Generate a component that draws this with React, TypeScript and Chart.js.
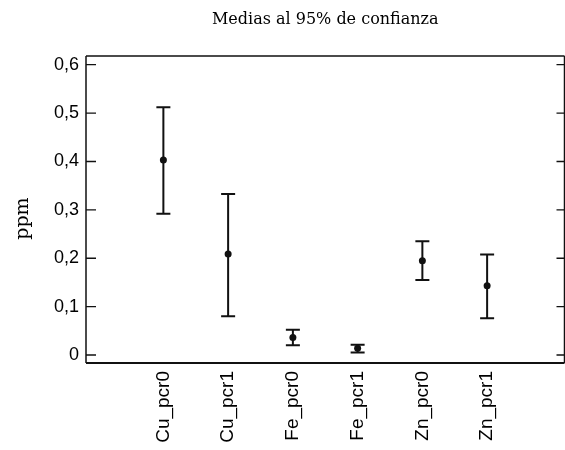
import React, { useEffect, useRef } from "react";
import { Chart, registerables } from "chart.js";

Chart.register(...registerables);

const CATEGORIES = ["Cu_pcr0", "Cu_pcr1", "Fe_pcr0", "Fe_pcr1", "Zn_pcr0", "Zn_pcr1"];
const MEANS = [0.403, 0.209, 0.036, 0.014, 0.195, 0.143];
const LOWER = [0.292, 0.08, 0.02, 0.005, 0.155, 0.076];
const UPPER = [0.512, 0.333, 0.052, 0.021, 0.235, 0.208];
const Y_TICKS = [0, 0.1, 0.2, 0.3, 0.4, 0.5, 0.6];
const TITLE = "Medias al 95% de confianza";
const Y_LABEL = "ppm";

const INK = "#111";

const errorBarPlugin = {
  id: "errorBars",
  beforeDatasetsDraw(chart: any) {
    const { ctx, scales } = chart;
    const x = scales.x;
    const y = scales.y;
    ctx.save();
    ctx.strokeStyle = INK;
    ctx.lineWidth = 2;
    CATEGORIES.forEach((_, i) => {
      const px = x.getPixelForValue(i);
      const pl = y.getPixelForValue(LOWER[i]);
      const pu = y.getPixelForValue(UPPER[i]);
      ctx.beginPath();
      ctx.moveTo(px, pl);
      ctx.lineTo(px, pu);
      ctx.moveTo(px - 7, pl);
      ctx.lineTo(px + 7, pl);
      ctx.moveTo(px - 7, pu);
      ctx.lineTo(px + 7, pu);
      ctx.stroke();
    });
    ctx.restore();
  },
};

const framePlugin = {
  id: "frame",
  afterDraw(chart: any) {
    const { ctx, chartArea: a, scales } = chart;
    const y = scales.y;
    ctx.save();
    ctx.strokeStyle = INK;
    ctx.lineWidth = 1.5;
    ctx.beginPath();
    ctx.moveTo(a.left, a.top);
    ctx.lineTo(a.right, a.top);
    ctx.moveTo(a.left, a.top);
    ctx.lineTo(a.left, a.bottom);
    ctx.moveTo(a.right, a.top);
    ctx.lineTo(a.right, a.bottom);
    ctx.stroke();
    ctx.lineWidth = 2;
    ctx.beginPath();
    ctx.moveTo(a.left, a.bottom);
    ctx.lineTo(a.right, a.bottom);
    ctx.stroke();
    ctx.lineWidth = 1.3;
    ctx.beginPath();
    Y_TICKS.forEach((v) => {
      const py = y.getPixelForValue(v);
      ctx.moveTo(a.left, py);
      ctx.lineTo(a.left + 10, py);
      ctx.moveTo(a.right - 8, py);
      ctx.lineTo(a.right, py);
    });
    ctx.stroke();
    ctx.restore();
  },
};

export default function App() {
  const ref = useRef<HTMLCanvasElement | null>(null);

  useEffect(() => {
    if (!ref.current) return;
    const chart = new Chart(ref.current, {
      type: "scatter",
      data: {
        datasets: [
          {
            data: MEANS.map((m, i) => ({ x: i, y: m })),
            pointRadius: 3.5,
            pointHoverRadius: 3.5,
            backgroundColor: INK,
            borderWidth: 0,
          },
        ],
      },
      options: {
        animation: false,
        responsive: false,
        layout: { padding: 0 },
        plugins: {
          legend: { display: false },
          tooltip: { enabled: false },
          title: {
            display: true,
            fullSize: false,
            text: TITLE,
            color: "#000",
            font: { family: "DejaVu Serif", size: 16, weight: "normal" },
            padding: { top: 10, bottom: 26.8 },
          },
        },
        scales: {
          x: {
            type: "linear",
            min: -1.195,
            max: 6.195,
            afterBuildTicks: (s: any) => {
              s.ticks = CATEGORIES.map((_, i) => ({ value: i }));
            },
            afterFit: (s: any) => {
              s.height = 87;
              s.paddingLeft = 0;
              s.paddingRight = 0;
            },
            ticks: {
              autoSkip: false,
              minRotation: 90,
              maxRotation: 90,
              padding: 8,
              color: "#000",
              font: { family: "Liberation Sans", size: 19 },
              callback: (v: any) => CATEGORIES[Math.round(Number(v))] ?? "",
            },
            grid: { display: false, drawTicks: false },
            border: { display: false },
          },
          y: {
            type: "linear",
            min: -0.0165,
            max: 0.618,
            afterBuildTicks: (s: any) => {
              s.ticks = Y_TICKS.map((v) => ({ value: v }));
            },
            afterFit: (s: any) => {
              s.width = 86;
              s.paddingTop = 0;
              s.paddingBottom = 0;
            },
            ticks: {
              padding: 7,
              color: "#000",
              font: { family: "Liberation Sans", size: 18 },
              callback: (v: any) => (Number(v) === 0 ? "0" : Number(v).toFixed(1).replace(".", ",")),
            },
            grid: { display: false, drawTicks: false },
            border: { display: false },
            title: {
              display: true,
              text: Y_LABEL + "   ",
              color: "#000",
              font: { family: "DejaVu Serif", size: 19, weight: "normal" },
              padding: { top: 12, bottom: 0 },
            },
          },
        },
      },
      plugins: [errorBarPlugin, framePlugin],
    });
    return () => chart.destroy();
  }, []);

  return (
    <div
      style={{
        position: "absolute",
        left: 0,
        top: 0,
        width: 565,
        height: 450,
        overflow: "hidden",
        background: "#fff",
      }}
    >
      <canvas ref={ref} width={568} height={450} style={{ display: "block" }} />
    </div>
  );
}
